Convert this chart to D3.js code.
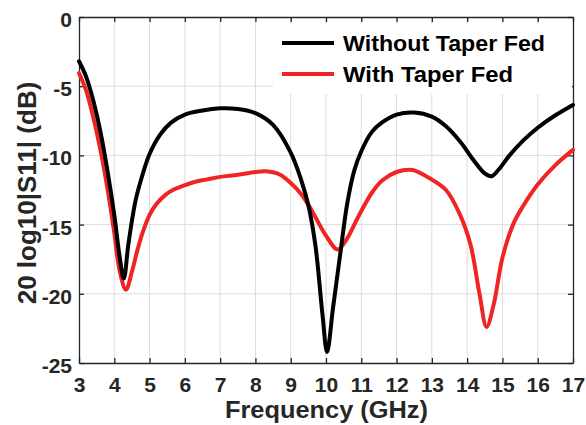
<!DOCTYPE html>
<html>
<head>
<meta charset="utf-8">
<script src="https://cdn.jsdelivr.net/npm/d3@7"></script>
<style>
  body { margin: 0; background: #fff; }
  svg text { font-family: "Liberation Sans", Arial, Helvetica, sans-serif; font-weight: bold; fill: #262626; }
</style>
</head>
<body>
<div class="svg-container"></div>
<script>
// data
const seriesNames = ["Without Taper Fed", "With Taper Fed"];
const seriesColors = ["#000000", "#ee2524"];

const freqWithout = [3.0, 3.2, 3.4, 3.6, 3.8, 4.0, 4.15, 4.27, 4.4, 4.6, 4.8, 5.0, 5.3, 5.6, 6.0, 6.5, 7.0, 7.5, 8.0, 8.5,
  9.0, 9.3, 9.5, 9.7, 9.9, 10.03, 10.2, 10.4, 10.6, 10.8, 11.0, 11.3, 11.6, 12.0, 12.5, 13.0, 13.4, 13.8, 14.2, 14.5,
  14.69, 14.9, 15.2, 15.6, 16.0, 16.5, 17.0];
const s11Without = [-3.2, -4.3, -6.0, -8.2, -11.0, -14.3, -17.3, -18.9, -16.4, -13.3, -11.4, -9.9, -8.5, -7.65, -7.05, -6.75, -6.6, -6.65, -6.95, -7.8,
  -9.8, -11.8, -13.6, -16.5, -21.5, -24.2, -21.0, -17.2, -13.5, -11.1, -9.7, -8.3, -7.6, -7.05, -6.9, -7.2, -7.9, -9.0, -10.4, -11.3,
  -11.5, -11.0, -10.0, -8.9, -8.0, -7.1, -6.35];

const freqWith = [3.0, 3.2, 3.4, 3.6, 3.8, 4.0, 4.15, 4.33, 4.5, 4.65, 4.8, 5.0, 5.2, 5.45, 5.7, 6.0, 6.3, 6.6, 7.0, 7.5, 8.0, 8.3, 8.7,
  9.0, 9.3, 9.6, 10.0, 10.33, 10.6, 10.9, 11.3, 11.6, 12.0, 12.45, 12.9, 13.4, 13.8, 14.1, 14.35, 14.55, 14.75, 15.0,
  15.3, 15.6, 16.0, 16.5, 17.0];
const s11With = [-4.05, -5.3, -7.2, -9.5, -12.3, -15.6, -18.3, -19.7, -18.4, -16.9, -15.6, -14.3, -13.5, -12.85, -12.45, -12.15, -11.9, -11.75, -11.55, -11.4, -11.2, -11.15, -11.4,
  -12.0, -12.8, -14.0, -15.8, -16.8, -16.0, -14.5, -12.7, -11.8, -11.2, -11.05, -11.6, -12.5, -14.3, -16.5, -20.0, -22.4, -20.8, -17.4,
  -15.0, -13.6, -12.1, -10.7, -9.6];

const xTicks = [3, 4, 5, 6, 7, 8, 9, 10, 11, 12, 13, 14, 15, 16, 17];
const yTicks = [0, -5, -10, -15, -20, -25];

const w = 586;
const h = 425;
const plotLeft = 79, plotRight = 573, plotTop = 17, plotBottom = 363;

const xScale = d3.scaleLinear().domain([3, 17]).range([plotLeft, plotRight]);
const yScale = d3.scaleLinear().domain([-25, 0]).range([plotBottom, plotTop]);

const svg = d3.select(".svg-container")
  .append("svg")
  .attr("width", w)
  .attr("height", h);

// grid
svg.append("g")
  .selectAll("line")
  .data(xTicks.slice(1, -1))
  .enter()
  .append("line")
  .attr("x1", d => xScale(d)).attr("x2", d => xScale(d))
  .attr("y1", plotTop).attr("y2", plotBottom)
  .attr("stroke", "#dcdcdc").attr("stroke-width", 1);

svg.append("g")
  .selectAll("line")
  .data(yTicks.slice(1, -1))
  .enter()
  .append("line")
  .attr("x1", plotLeft).attr("x2", plotRight)
  .attr("y1", d => yScale(d)).attr("y2", d => yScale(d))
  .attr("stroke", "#dcdcdc").attr("stroke-width", 1);

// axes (matlab style box, ticks inside)
const tick = 5;
const fmt = d => String(d);
const xAxis = d3.axisBottom(xScale).tickValues(xTicks).tickFormat(fmt).tickSizeInner(-tick).tickSizeOuter(0);
const yAxis = d3.axisLeft(yScale).tickValues(yTicks).tickFormat(fmt).tickSizeInner(-tick).tickSizeOuter(0);

const gx = svg.append("g")
  .attr("id", "x-axis")
  .attr("transform", "translate(0," + plotBottom + ")")
  .call(xAxis);
gx.selectAll("text").attr("dy", null).attr("y", 29).style("font-size", "21px");

const gy = svg.append("g")
  .attr("id", "y-axis")
  .attr("transform", "translate(" + plotLeft + ",0)")
  .call(yAxis);
gy.selectAll("text").attr("x", -7).attr("dy", "0.45em").style("font-size", "21px");

svg.append("g")
  .attr("transform", "translate(0," + plotTop + ")")
  .call(d3.axisTop(xScale).tickValues(xTicks).tickSizeInner(-tick).tickSizeOuter(0).tickFormat(""));
svg.append("g")
  .attr("transform", "translate(" + plotRight + ",0)")
  .call(d3.axisRight(yScale).tickValues(yTicks).tickSizeInner(-tick).tickSizeOuter(0).tickFormat(""));

svg.selectAll(".domain").attr("stroke", "#262626").attr("stroke-width", 1.3);
svg.selectAll(".tick line").attr("stroke", "#262626").attr("stroke-width", 1.3);

// curves
const line = d3.line()
  .x(d => xScale(d[0]))
  .y(d => yScale(d[1]))
  .curve(d3.curveCatmullRom.alpha(0.5));

const series = [
  d3.zip(freqWithout, s11Without),
  d3.zip(freqWith, s11With)
];

// red drawn first so black sits on top at the start
[1, 0].forEach(i => {
  svg.append("path")
    .datum(series[i])
    .attr("fill", "none")
    .attr("stroke", seriesColors[i])
    .attr("stroke-width", 4)
    .attr("stroke-linejoin", "round")
    .attr("stroke-linecap", "round")
    .attr("d", line);
});

// legend
const legend = svg.append("g");
legend.append("rect")
  .attr("x", 273).attr("y", 24)
  .attr("width", 299).attr("height", 70)
  .attr("fill", "#fff");

const legendWidths = [202, 170];
seriesNames.forEach((name, i) => {
  const y = 43 + i * 31;
  legend.append("line")
    .attr("x1", 282).attr("x2", 334)
    .attr("y1", y).attr("y2", y)
    .attr("stroke", seriesColors[i])
    .attr("stroke-width", 4);
  legend.append("text")
    .attr("x", 343).attr("y", y)
    .attr("dy", "0.36em")
    .attr("textLength", legendWidths[i])
    .attr("lengthAdjust", "spacingAndGlyphs")
    .style("font-size", "22px")
    .style("fill", "#000")
    .text(name);
});

// axis labels
svg.append("text")
  .attr("x", (plotLeft + plotRight) / 2 - 101)
  .attr("y", 418)
  .attr("textLength", 203)
  .attr("lengthAdjust", "spacingAndGlyphs")
  .style("font-size", "23px")
  .text("Frequency (GHz)");

svg.append("text")
  .attr("transform", "translate(36," + 193 + ") rotate(-90)")
  .attr("text-anchor", "middle")
  .style("font-size", "26px")
  .text("20 log10|S11| (dB)");
</script>
</body>
</html>
